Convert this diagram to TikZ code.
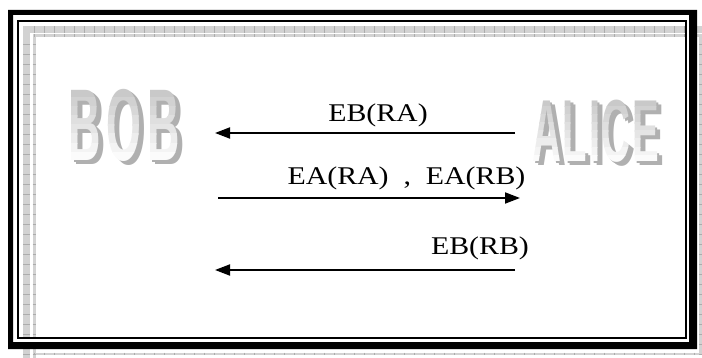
\documentclass[tikz,border=0pt]{standalone}
\usepackage{fontspec}
\setmainfont{Liberation Serif}
\newfontfamily\artfont{Liberation Sans}
\usetikzlibrary{arrows.meta}

\newcommand{\bobword}{\scalebox{1.12}[2.55]{B\hspace{5pt}O\hspace{5pt}B}}
\newcommand{\aliceword}{\scalebox{1.0}[2.2]{A\hspace{2pt}L\hspace{2pt}I\hspace{1pt}C\hspace{2pt}E}}

\begin{document}
\begin{tikzpicture}[x=1pt, y=-1pt, line width=0.6pt,
  msg/.style={line width=1.8pt, -{Triangle[length=15pt, width=11pt]}},
  lbl/.style={inner sep=0pt, anchor=base, font=\fontsize{25.5}{26}\selectfont},
  art/.style={inner sep=0pt, font=\artfont\bfseries\fontsize{40}{40}\selectfont},
  band/.style={gray!35},
  tick/.style={gray!65, line width=0.5pt}]
  \useasboundingbox (0,0) rectangle (702,358);
  % Grey page border
  \fill[band] (23,26.5) rectangle (702,33);
  \fill[band] (32.5,34.5) rectangle (702,37.5);
  \fill[band] (23,26.5) rectangle (29.5,358);
  \fill[band] (32.5,34.5) rectangle (36,358);
  \fill[band] (36,352.5) rectangle (700,355);
  \fill[band] (699,37.5) rectangle (701.5,355);
  \foreach \x in {34,44,...,694} {
    \draw[tick] (\x,26.5) -- (\x,33);
    \draw[tick] (\x,34.5) -- (\x,37.5);
    \draw[tick] (\x,352.5) -- (\x,355);
  }
  \foreach \y in {44,54,...,354} {
    \draw[tick] (23,\y) -- (29.5,\y);
    \draw[tick] (32.5,\y) -- (36,\y);
    \draw[tick] (699,\y) -- (701.5,\y);
  }
  % Black double frame
  \fill[white, even odd rule] (13,15) rectangle (689,342) (19,22) rectangle (685,337);
  \fill[even odd rule] (8,10) rectangle (697,349) (13,15) rectangle (689,342);
  \draw[line width=2pt] (18,21) rectangle (686,338);
  % Names: dark extrusion behind, grey-to-white strips on top
  \foreach \d in {2.5,5}
    \node[art, text=gray!62] at (124+\d,125+0.8*\d) {\bobword};
  \foreach \k in {0,...,7} {
    \pgfmathsetmacro\tone{42-5.5*\k}
    \begin{scope}
      \clip (55,88+9.2*\k) rectangle (195,88.5+9.2*\k+9.2);
      \node[art, text=gray!\tone] (bob\k) at (124,125) {\bobword};
    \end{scope}
  }
  \foreach \d in {2.5,5}
    \node[art, text=gray!62] at (595.5+\d,131+0.8*\d) {\aliceword};
  \foreach \k in {0,...,7} {
    \pgfmathsetmacro\tone{42-5.5*\k}
    \begin{scope}
      \clip (520,98+8.2*\k) rectangle (680,98.5+8.2*\k+8.2);
      \node[art, text=gray!\tone] (alice\k) at (595.5,131) {\aliceword};
    \end{scope}
  }
  % Messages
  \coordinate (a1) at (515,133);
  \coordinate (b1) at (215,133);
  \coordinate (b2) at (218,198);
  \coordinate (a2) at (520,198);
  \coordinate (a3) at (515,270);
  \coordinate (b3) at (215,270);
  \draw[msg] (a1) -- (b1);
  \draw[msg] (b2) -- (a2);
  \draw[msg] (a3) -- (b3);
  \node[lbl] (m1) at (378,122) {\scalebox{1.17}[1]{EB(RA)}};
  \node[lbl] (m2) at (406.5,185) {\scalebox{1.17}[1]{EA(RA)\ \ ,\ \ EA(RB)}};
  \node[lbl] (m3) at (480,255) {\scalebox{1.17}[1]{EB(RB)}};
\end{tikzpicture}
\end{document}
